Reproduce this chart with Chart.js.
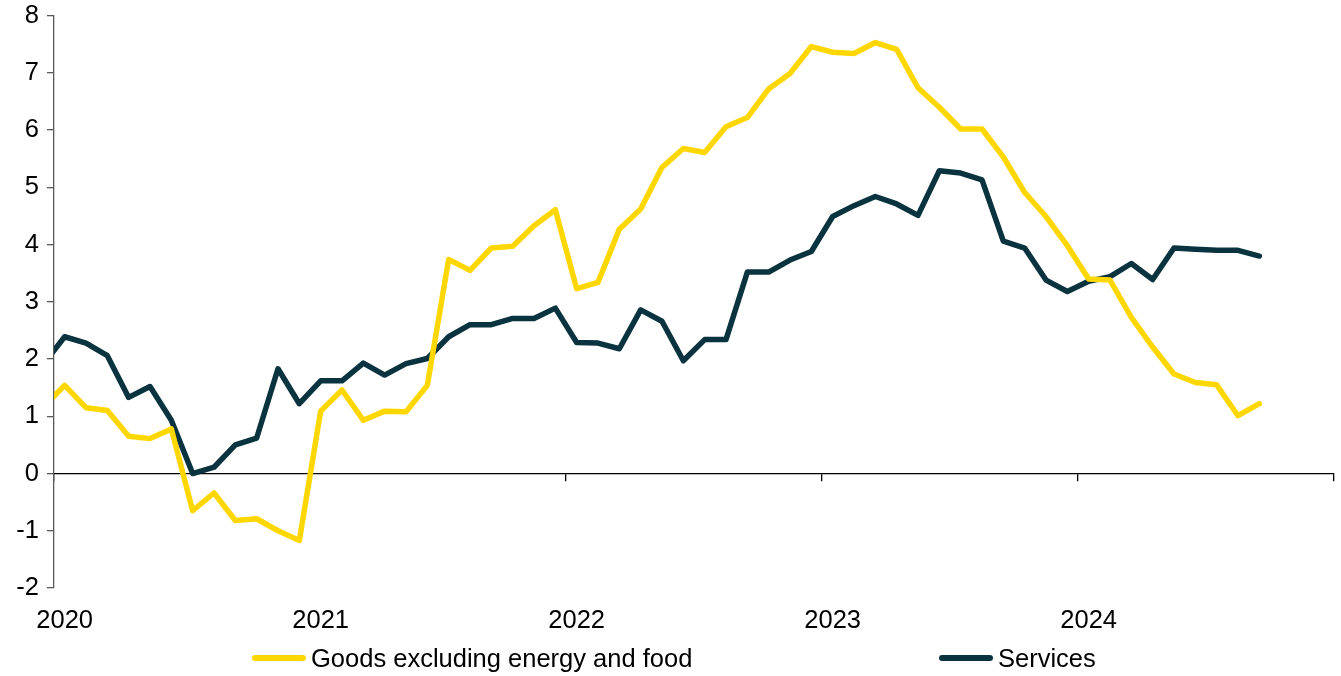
<!DOCTYPE html>
<html>
<head>
<meta charset="utf-8">
<script src="https://cdn.jsdelivr.net/npm/chart.js@4.4.1/dist/chart.umd.min.js"></script>
<style>
  body { margin: 0; background: #fff; font-family: "Liberation Sans", Arial, sans-serif; }
  #wrap { position: relative; width: 1341px; height: 676px; }
  .item { position: absolute; top: 640px; height: 36px; display: flex; align-items: center; font-size: 25.5px; color: #000; }
  .swatch { width: 54px; height: 6px; border-radius: 3px; margin-right: 5px; }
</style>
</head>
<body>
<div id="wrap">
  <canvas id="chart" width="1341" height="676"></canvas>
  <div class="item" style="left:252px"><span class="swatch" style="background:#FFD700"></span>Goods excluding energy and food</div>
  <div class="item" style="left:939px"><span class="swatch" style="background:#0A3340"></span>Services</div>
</div>
<script>
// monthly, Dec 2019 .. Sep 2024 (Dec 2019 is cut off by the axis)
var months = [];
months.push('2019-12');
for (var y = 2020; y <= 2024; y++) {
    for (var m = 1; m <= 12; m++) {
        if (y == 2024 && m > 9) break;
        months.push(y + '-' + (m < 10 ? '0' + m : m));
    }
}

var goods = [1.16,
    1.54, 1.15, 1.10, 0.65, 0.61, 0.78, -0.65, -0.34, -0.82, -0.79, -1.00, -1.17,
    1.09, 1.46, 0.93, 1.09, 1.08, 1.54, 3.74, 3.55, 3.94, 3.97, 4.33, 4.61,
    3.23, 3.34, 4.27, 4.62, 5.35, 5.68, 5.61, 6.06, 6.22, 6.72, 6.99, 7.46,
    7.36, 7.34, 7.53, 7.41, 6.74, 6.40, 6.02, 6.02, 5.53, 4.91, 4.49, 3.98,
    3.40, 3.38, 2.73, 2.21, 1.74, 1.59, 1.55, 1.01, 1.22];

var services = [1.91,
    2.39, 2.28, 2.06, 1.33, 1.52, 0.93, 0.00, 0.11, 0.50, 0.62, 1.83, 1.22,
    1.62, 1.62, 1.93, 1.72, 1.92, 2.01, 2.39, 2.60, 2.60, 2.71, 2.71, 2.89,
    2.29, 2.28, 2.18, 2.86, 2.66, 1.97, 2.34, 2.34, 3.52, 3.52, 3.73, 3.88,
    4.49, 4.68, 4.84, 4.71, 4.51, 5.29, 5.25, 5.13, 4.06, 3.94, 3.38, 3.18,
    3.36, 3.44, 3.67, 3.39, 3.94, 3.92, 3.90, 3.90, 3.80];

var yearLabels = ['2020', '2021', '2022', '2023', '2024'];

// month string -> months since Jan 2020, plotted mid-month
function monthPos(s) {
    var p = s.split('-');
    return (parseInt(p[0]) - 2020) * 12 + parseInt(p[1]) - 1 + 0.5;
}

function toPoints(values) {
    var out = [];
    for (var i = 0; i < values.length; i++) {
        out.push({x: monthPos(months[i]), y: values[i]});
    }
    return out;
}

Chart.defaults.font.family = '"Liberation Sans", Arial, sans-serif';
Chart.defaults.font.size = 25.5;
Chart.defaults.color = '#000';

var lineStyle = {
    borderWidth: 5.5,
    pointRadius: 0,
    tension: 0,
    borderJoinStyle: 'round',
    borderCapStyle: 'round',
    clip: {left: 0, right: 8, top: 8, bottom: 8}
};

new Chart(document.getElementById('chart').getContext('2d'), {
    type: 'line',
    data: {
        datasets: [
            Object.assign({label: 'Goods excluding energy and food', data: toPoints(goods),
                borderColor: '#FFD700', backgroundColor: '#FFD700'}, lineStyle),
            Object.assign({label: 'Services', data: toPoints(services),
                borderColor: '#0A3340', backgroundColor: '#0A3340'}, lineStyle)
        ]
    },
    options: {
        responsive: false,
        animation: false,
        layout: {padding: {left: 0, right: 7, top: 15, bottom: 40}},
        plugins: {legend: {display: false}, tooltip: {enabled: false}},
        scales: {
            x: {
                type: 'linear', min: 0, max: 60,
                grid: {display: false},
                border: {display: false},
                afterBuildTicks: function (s) {
                    s.ticks = yearLabels.map(function (l, i) { return {value: i * 12}; });
                },
                ticks: {
                    padding: 10,
                    labelOffset: 10.67,
                    maxRotation: 0,
                    callback: function (v) { return yearLabels[v / 12]; }
                },
                afterFit: function (s) { s.height = 48; }
            },
            // axis line drawn along zero with the year tick marks
            x0: {
                type: 'linear', min: 0, max: 60,
                position: {y: 0},
                border: {display: true, color: '#000', width: 1.3},
                grid: {drawOnChartArea: false, drawTicks: true, tickLength: 7, color: '#000', lineWidth: 1.3},
                ticks: {stepSize: 12, callback: function () { return ''; }}
            },
            y: {
                min: -2, max: 8,
                grid: {drawOnChartArea: false, drawTicks: true, tickLength: 7, color: '#595959', lineWidth: 1.3},
                border: {display: true, color: '#595959', width: 1.3},
                ticks: {stepSize: 1, padding: 8, font: {lineHeight: 0.6}},
                afterFit: function (s) { s.width = 54; }
            }
        }
    }
});
</script>
</body>
</html>
